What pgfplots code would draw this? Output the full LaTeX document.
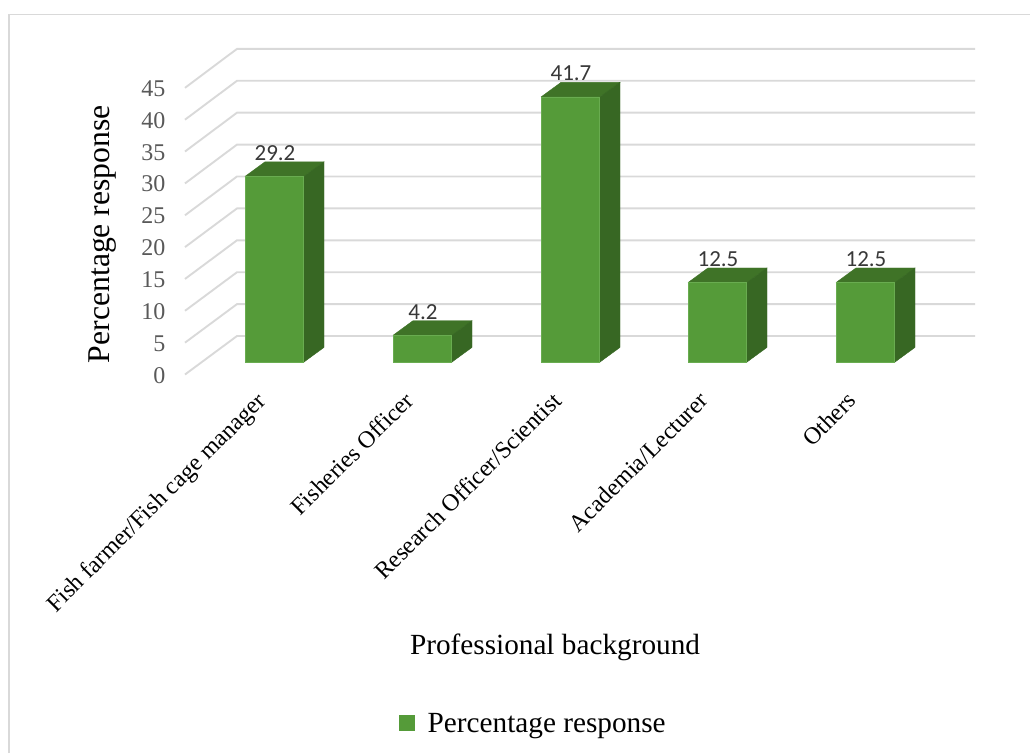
\documentclass[border=0pt]{standalone}
\usepackage{pgfplots}
\pgfplotsset{compat=1.18}
\usepackage{fontspec}
\setmainfont{Liberation Serif}
\newfontfamily\labelfont{Carlito}
\definecolor{gridgray}{HTML}{D9D9D9}
\definecolor{barfront}{HTML}{559B39}
\definecolor{baredge}{HTML}{69AC50}
\definecolor{bartop}{HTML}{3F7327}
\definecolor{barside}{HTML}{376723}
\begin{document}
\begin{tikzpicture}
\path[use as bounding box] (-170pt,-373pt) rectangle (860pt,380pt);
% chart frame
\draw[gridgray,line width=1.5pt] (-161pt,-373pt) -- (-161pt,365.5pt) -- (860pt,365.5pt);
\begin{axis}[
  scale only axis, width=860pt, height=380pt,
  xmin=170, xmax=1030, ymin=-2.832, ymax=56.96,
  clip=false,
  axis x line=bottom, axis y line=left,
  axis line style={draw=none},
  major tick length=0pt,
  xtick={274.5,422.5,570.5,717.5,865.5},
  xticklabels={Fish farmer/Fish cage manager,Fisheries Officer,Research Officer/Scientist,Academia/Lecturer,Others},
  xticklabel style={font=\fontsize{24}{24}\selectfont,rotate=45,anchor=north east,text=black,inner sep=0pt,xshift=-21.2pt,yshift=6.7pt},
  ytick={-1.967,3.045,8.057,13.069,18.08,23.09,28.10,33.12,38.13,43.14},
  yticklabels={0,5,10,15,20,25,30,35,40,45},
  yticklabel style={font=\fontsize{24}{24}\selectfont,text=black!65,inner sep=0pt,xshift=-4.5pt,yshift=-0.7pt},
  xlabel={Professional background},
  xlabel style={font=\fontsize{29.25}{30}\selectfont,at={(axis description cs:0.4477,-0.704)},anchor=center},
  ylabel={Percentage response},
  ylabel style={font=\fontsize{31.7}{32}\selectfont,at={(axis description cs:-0.0780,0.384)},anchor=center},
  legend style={draw=none,fill=none,at={(axis description cs:0.4225,-0.905)},anchor=center,
    font=\fontsize{29.25}{30}\selectfont,inner sep=0pt,column sep=11pt},
  legend cell align=left,
  legend image code/.code={\fill[barfront] (0pt,-6pt) rectangle (15pt,9pt);},
]
% back wall gridlines, levels 0 to 45
\pgfplotsset{wall/.style={gridgray,line width=1.9pt,forget plot}}
\addplot[wall] coordinates {(185,-1.967) (237,4.091) (975,4.091)};
\addplot[wall] coordinates {(185,3.045) (237,9.111) (975,9.111)};
\addplot[wall] coordinates {(185,8.057) (237,14.13) (975,14.13)};
\addplot[wall] coordinates {(185,13.069) (237,19.15) (975,19.15)};
\addplot[wall] coordinates {(185,18.08) (237,24.17) (975,24.17)};
\addplot[wall] coordinates {(185,23.09) (237,29.19) (975,29.19)};
\addplot[wall] coordinates {(185,28.10) (237,34.21) (975,34.21)};
\addplot[wall] coordinates {(185,33.12) (237,39.23) (975,39.23)};
\addplot[wall] coordinates {(185,38.13) (237,44.25) (975,44.25)};
\addplot[wall] coordinates {(185,43.14) (237,49.27) (975,49.27)};
% top faces of the columns
\pgfplotsset{topface/.style={fill=bartop,draw=bartop,line width=0.4pt,forget plot}}
\addplot[topface] coordinates {(245,29.2) (265,31.5) (324,31.5) (304,29.2) (245,29.2)};
\addplot[topface] coordinates {(393,4.2) (413,6.5) (472,6.5) (452,4.2) (393,4.2)};
\addplot[topface] coordinates {(541,41.7) (561,44.0) (620,44.0) (600,41.7) (541,41.7)};
\addplot[topface] coordinates {(688,12.5) (708,14.8) (767,14.8) (747,12.5) (688,12.5)};
\addplot[topface] coordinates {(836,12.5) (856,14.8) (915,14.8) (895,12.5) (836,12.5)};
% side faces of the columns
\pgfplotsset{sideface/.style={fill=barside,draw=barside,line width=0.4pt,forget plot}}
\addplot[sideface] coordinates {(304,29.2) (324,31.5) (324,2.3) (304,0) (304,29.2)};
\addplot[sideface] coordinates {(452,4.2) (472,6.5) (472,2.3) (452,0) (452,4.2)};
\addplot[sideface] coordinates {(600,41.7) (620,44.0) (620,2.3) (600,0) (600,41.7)};
\addplot[sideface] coordinates {(747,12.5) (767,14.8) (767,2.3) (747,0) (747,12.5)};
\addplot[sideface] coordinates {(895,12.5) (915,14.8) (915,2.3) (895,0) (895,12.5)};
% front faces with the value labels
\addplot[ybar,bar width=58.5pt,bar shift=0pt,fill=barfront,draw=baredge,line width=0.6pt,
  nodes near coords,
  every node near coord/.append style={anchor=center,yshift=23.5pt,xshift=0.5pt,
    font=\labelfont\fontsize{23}{23}\selectfont,text=black!78,
    /pgf/number format/assume math mode=true,
    /pgf/number format/fixed,/pgf/number format/precision=1,/pgf/number format/fixed zerofill},
] coordinates {(274.5,29.2) (422.5,4.2) (570.5,41.7) (717.5,12.5) (865.5,12.5)};
\addlegendentry{Percentage response}
\end{axis}
\end{tikzpicture}
\end{document}
